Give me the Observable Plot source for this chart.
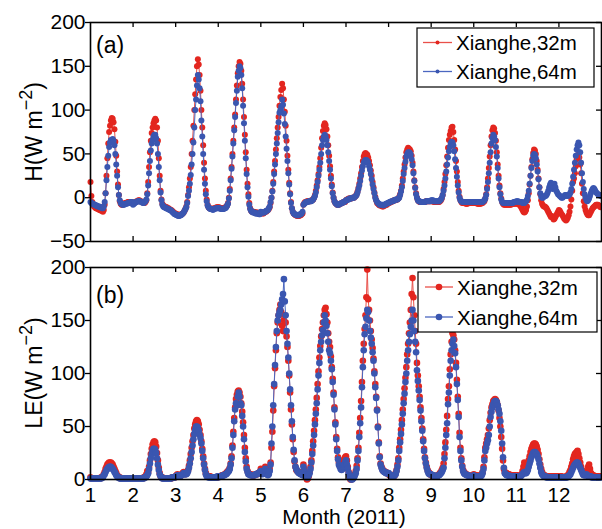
<!DOCTYPE html>
<html><head><meta charset="utf-8">
<script src="https://cdn.jsdelivr.net/npm/d3@7"></script>
<script src="https://cdn.jsdelivr.net/npm/@observablehq/plot@0.6"></script>
<style>
body{margin:0;background:#fff}
#chart{position:relative;width:602px;height:529px;font-family:"Liberation Sans",Arial,sans-serif}
#chart svg{position:absolute;left:0;overflow:visible}
#chart svg g[aria-label="y-axis tick label"]{font-size:21px}
#chart svg g[aria-label="x-axis tick label"]{font-size:20.5px}
</style>
</head><body><div id="chart"></div>
<script>
// ---------- data ----------
const months = [1,2,3,4,5,6,7,8,9,10,11,12];
const xTickLabels = [1,2,3,4,5,6,7,8,9,10,11,12];
const xTicksInner = [2,3,4,5,6,7,8,9,10,11,12];
const yTicksH = [-50,0,50,100,150,200];
const yTicksLE = [0,50,100,150,200];
const seriesNames = ["Xianghe,32m","Xianghe,64m"];

// Sensible heat flux H (W m-2), mean diurnal cycle, 48 half-hours per month
const H_32m = [
[18,2,-5,-8,-10,-11,-12,-12,-13,-13,-14,-14,-15,-15,-16,-14,-8,5,25,45,62,75,82,88,91,90,86,78,64,48,30,15,3,-4,-7,-8,-8,-7,-7,-6,-6,-6,-5,-5,-5,-5,-6,-6],
[-7,-6,-5,-5,-4,-4,-3,-3,-4,-4,-5,-5,-6,-6,-5,-3,5,18,35,52,65,74,80,85,88,90,88,80,65,45,25,8,-2,-7,-9,-10,-10,-11,-11,-12,-12,-13,-14,-14,-15,-16,-17,-18],
[-18,-19,-19,-20,-20,-20,-19,-19,-18,-17,-15,-13,-10,-5,3,12,22,35,50,65,82,100,118,135,150,158,152,140,122,100,80,60,40,22,8,-2,-8,-11,-12,-12,-13,-13,-13,-12,-12,-12,-11,-11],
[-11,-11,-12,-12,-12,-12,-12,-12,-11,-10,-9,-6,0,10,22,35,50,65,80,95,112,128,142,150,155,153,145,130,112,92,72,52,32,16,4,-6,-12,-15,-16,-16,-16,-17,-17,-17,-17,-18,-18,-18],
[-17,-17,-18,-18,-17,-16,-16,-15,-14,-13,-11,-6,0,8,18,30,42,55,68,80,92,105,115,123,130,125,112,98,82,65,48,32,17,5,-5,-12,-16,-18,-19,-20,-20,-21,-21,-21,-20,-20,-19,-18],
[-8,-6,-5,-5,-4,-4,-4,-4,-4,-3,-3,-2,0,3,8,14,20,27,35,45,57,68,76,82,85,83,78,70,60,48,36,25,15,6,0,-4,-6,-7,-8,-8,-8,-7,-7,-6,-6,-5,-5,-5],
[-3,-2,-2,-1,-1,-1,-1,0,0,0,1,2,4,7,11,16,22,28,35,42,47,50,51,50,49,46,42,37,31,25,18,12,6,1,-3,-6,-7,-8,-9,-9,-9,-10,-10,-9,-9,-8,-8,-7],
[-6,-6,-5,-5,-4,-4,-3,-3,-3,-2,-2,-1,1,4,8,14,22,30,38,46,52,55,57,56,55,53,48,40,30,20,12,5,0,-3,-4,-5,-5,-5,-5,-5,-5,-5,-4,-4,-4,-4,-4,-4],
[-4,-4,-4,-5,-5,-5,-5,-5,-5,-5,-4,-3,-1,3,10,18,27,37,47,57,66,72,76,80,81,75,66,55,42,30,18,8,1,-3,-5,-6,-6,-6,-6,-7,-7,-7,-6,-6,-6,-6,-6,-6],
[-6,-6,-6,-6,-7,-7,-7,-7,-7,-6,-6,-5,-4,-1,4,12,22,34,47,60,70,77,80,79,74,65,52,38,25,14,5,-1,-5,-7,-8,-8,-8,-8,-8,-8,-8,-8,-8,-7,-7,-7,-7,-7],
[-6,-7,-7,-8,-8,-10,-12,-14,-16,-17,-16,-14,-10,-3,5,15,25,35,44,51,55,54,50,42,32,22,12,4,-3,-7,-9,-10,-10,-11,-12,-14,-16,-18,-20,-22,-21,-23,-25,-24,-22,-20,-18,-16],
[-14,-15,-17,-19,-20,-22,-24,-25,-26,-25,-23,-20,-16,-10,-2,8,18,22,28,36,44,48,50,46,38,28,16,5,-4,-10,-14,-17,-19,-20,-20,-18,-16,-14,-12,-11,-10,-9,-8,-8,-8,-9,-10,-11]
];
const H_64m = [
[-5,-6,-7,-7,-8,-8,-9,-9,-10,-10,-10,-11,-11,-12,-12,-10,-5,5,20,35,48,58,63,66,66,67,65,60,50,38,25,12,3,-3,-6,-7,-8,-8,-8,-7,-7,-7,-6,-6,-6,-5,-5,-5],
[-8,-7,-6,-5,-5,-4,-4,-4,-4,-5,-5,-6,-6,-5,-4,-2,4,14,28,42,54,62,66,70,72,72,68,62,50,35,20,6,-3,-8,-10,-11,-11,-12,-12,-13,-13,-14,-14,-15,-16,-17,-18,-19],
[-19,-20,-20,-21,-21,-20,-20,-19,-18,-17,-15,-13,-11,-6,2,8,16,26,38,50,63,80,100,112,128,140,135,125,110,88,70,50,32,16,4,-4,-9,-11,-12,-13,-13,-13,-14,-13,-13,-12,-12,-12],
[-12,-12,-12,-13,-13,-13,-13,-12,-12,-11,-9,-7,-1,8,20,33,47,62,77,92,108,122,138,145,150,148,140,125,105,85,65,45,27,12,1,-8,-13,-15,-16,-17,-17,-17,-18,-18,-18,-18,-19,-19],
[-16,-17,-17,-17,-17,-16,-15,-15,-14,-12,-10,-5,0,7,16,27,38,50,62,74,86,97,100,104,112,106,96,84,70,56,42,28,15,4,-6,-12,-16,-18,-19,-19,-20,-20,-20,-20,-19,-19,-18,-16],
[-8,-7,-6,-5,-5,-5,-4,-4,-4,-4,-3,-2,0,2,6,12,18,25,32,40,50,60,66,70,72,70,66,60,52,42,32,22,13,5,0,-4,-6,-7,-8,-8,-8,-7,-7,-6,-6,-5,-5,-4],
[-3,-3,-2,-2,-1,-1,-1,0,0,0,1,2,3,6,10,14,19,25,31,36,40,42,43,43,42,40,36,32,27,21,15,10,5,0,-3,-5,-6,-7,-8,-8,-8,-8,-9,-8,-8,-7,-7,-6],
[-6,-5,-5,-4,-4,-4,-3,-3,-2,-2,-2,-1,0,3,7,12,19,27,34,41,47,50,52,52,51,49,44,37,28,19,11,4,0,-3,-4,-4,-5,-5,-5,-5,-5,-5,-4,-4,-4,-4,-4,-4],
[-3,-3,-3,-4,-4,-4,-4,-4,-4,-4,-3,-2,0,3,8,14,22,30,38,46,53,58,62,64,63,60,53,44,34,24,14,6,0,-3,-4,-5,-5,-5,-5,-5,-5,-5,-5,-5,-5,-5,-5,-5],
[-5,-5,-5,-5,-5,-5,-5,-5,-5,-5,-5,-4,-3,-1,3,10,18,28,40,52,62,68,72,70,66,58,47,34,22,12,4,-2,-5,-6,-6,-6,-6,-6,-6,-6,-6,-6,-6,-6,-6,-5,-5,-5],
[-4,-4,-4,-5,-5,-5,-5,-6,-6,-6,-5,-4,-2,2,8,16,25,34,42,48,50,49,45,38,30,21,12,5,1,0,0,1,2,2,3,5,8,12,15,17,14,10,12,16,12,8,6,4],
[3,2,1,0,0,1,2,3,3,2,2,3,4,6,10,16,24,32,40,48,55,60,63,60,52,40,28,18,10,4,0,-3,-4,-3,-1,2,5,8,10,11,10,8,6,5,4,3,3,2]
];
// Latent heat flux LE (W m-2)
const LE_32m = [
[2,1,1,1,1,1,1,1,1,1,1,1,2,2,3,5,7,10,12,14,15,16,16,16,15,14,12,10,8,6,4,3,2,2,1,1,1,1,1,1,1,1,1,1,1,1,1,1],
[1,1,1,1,1,1,1,1,1,1,1,1,2,2,3,5,8,7,12,18,24,29,33,35,36,35,31,25,18,11,6,3,2,2,1,1,1,1,1,1,1,1,1,1,2,2,2,2],
[3,4,5,4,3,3,4,5,6,7,6,5,6,7,9,13,18,24,30,36,42,48,52,55,56,55,52,47,42,36,29,22,15,10,6,4,3,3,3,3,2,2,2,2,2,2,2,2],
[3,3,3,3,4,4,4,5,5,6,7,8,9,11,15,22,32,45,58,68,76,80,83,84,82,78,72,64,54,42,30,20,12,8,6,5,5,5,4,4,4,4,5,5,5,6,6,7],
[10,8,7,8,10,12,9,6,5,7,10,16,30,45,65,88,105,122,138,148,155,160,165,158,145,140,150,155,148,135,125,112,98,82,66,52,38,26,17,12,9,8,7,7,6,6,5,5],
[14,10,6,2,0,1,3,7,12,18,27,36,46,56,66,77,90,102,115,126,135,142,148,155,160,162,156,148,138,130,125,116,106,95,82,68,54,40,29,21,16,13,12,11,13,16,19,21],
[22,18,12,7,3,0,0,1,2,3,5,8,13,20,30,44,58,74,92,112,128,142,155,172,198,170,160,150,140,132,124,114,102,90,78,66,50,35,22,15,12,10,8,8,7,7,6,6],
[5,4,4,3,3,3,3,4,6,9,14,20,30,38,47,56,66,76,86,96,106,118,128,138,148,160,175,190,172,155,140,128,110,98,88,78,68,58,48,38,29,21,16,12,9,7,6,5],
[4,4,3,3,3,3,3,4,4,5,6,7,9,11,15,24,35,47,60,76,88,104,118,130,138,136,132,122,110,94,78,62,44,30,20,13,9,7,6,5,5,4,4,4,3,3,3,3],
[5,4,4,4,3,3,3,4,4,5,7,12,21,30,34,38,42,48,56,63,68,71,74,75,76,75,73,70,65,58,50,40,29,18,10,7,6,6,5,5,5,4,4,4,4,4,4,4],
[4,4,3,3,3,4,5,8,12,16,12,8,10,14,18,22,26,29,31,33,34,34,33,31,28,24,19,14,10,7,5,4,4,3,3,3,3,3,3,3,3,3,3,3,3,3,3,3],
[3,3,3,3,2,2,2,2,3,3,4,5,7,9,12,15,19,22,24,25,26,27,24,20,16,12,9,7,6,5,5,6,8,12,14,10,6,5,4,4,3,3,3,3,3,3,3,3]
];
const LE_64m = [
[1,1,1,1,1,1,1,1,1,1,1,1,1,2,2,4,5,7,9,10,11,12,12,12,11,10,9,7,6,4,3,2,2,1,1,1,1,1,1,1,1,1,1,1,1,1,1,1],
[1,1,1,1,1,1,1,1,1,1,1,1,1,2,2,3,4,6,10,15,20,24,27,29,29,28,25,20,14,9,5,3,2,1,1,1,1,1,1,1,1,1,1,1,2,2,2,2],
[3,3,4,4,3,3,4,4,5,6,5,5,5,6,8,11,15,20,26,32,38,43,47,50,50,49,46,42,39,34,27,20,14,9,5,3,3,2,2,2,2,2,2,2,2,2,2,3],
[2,3,3,3,3,4,4,4,5,5,6,7,8,10,14,20,30,42,55,66,72,70,78,82,78,72,70,60,50,38,26,17,10,7,5,5,4,4,4,4,4,4,5,5,5,6,6,7],
[8,6,5,6,8,10,7,5,4,5,8,14,34,50,70,90,108,125,140,150,155,158,160,165,170,175,189,168,155,140,128,115,100,85,70,55,40,28,18,12,10,8,7,6,6,5,5,4],
[12,8,5,3,2,2,4,6,10,16,24,32,42,52,62,72,85,98,110,122,130,136,141,148,155,150,145,138,130,122,119,112,104,92,80,66,52,38,27,19,14,12,10,9,10,12,14,16],
[18,14,10,6,3,1,0,0,1,2,4,6,10,18,27,40,53,68,87,106,122,137,144,152,160,158,150,140,134,128,120,112,100,87,77,65,49,34,21,14,11,9,8,7,7,6,6,6],
[6,5,4,4,3,3,3,4,5,8,12,18,27,35,43,52,62,72,81,92,100,112,122,130,137,144,150,160,150,140,130,120,103,93,84,75,65,55,46,36,27,20,15,11,8,6,5,5],
[5,4,4,4,3,3,3,3,4,4,5,6,7,9,11,20,30,42,53,71,82,98,112,122,128,132,126,119,106,90,75,59,40,27,18,12,8,6,5,5,4,4,4,3,3,3,3,3],
[4,3,3,3,3,3,3,3,3,4,6,10,18,27,30,34,37,42,50,59,64,68,71,73,74,74,73,70,66,62,55,46,34,21,11,6,5,4,4,4,3,3,3,3,3,3,3,3],
[3,3,3,3,3,3,4,5,6,7,6,6,7,9,12,15,18,21,23,25,26,26,25,24,22,19,15,11,7,5,4,3,3,3,2,2,2,2,2,2,2,2,2,2,2,2,2,2],
[2,2,2,2,2,2,2,2,2,2,3,3,4,5,7,9,11,13,14,15,16,16,15,13,11,9,7,5,4,4,4,5,4,3,3,3,3,2,2,2,2,2,2,2,2,2,2,2]
];

// ---------- styling ----------
const RED = "#e3261f", RED_LINE = "#e9504a";
const BLUE = "#3a56b0", BLUE_LINE = "#4b67c0";
const FONT = '"Liberation Sans", Arial, sans-serif';
const W = 602, ML = 90, MR = 1;
const FW = W - ML - MR;

function rows(series, name) {
  return series.flatMap((day, k) => {
    if (day.length !== 48) throw new Error(name + " month " + months[k] + " has " + day.length);
    return day.map((v, i) => ({x: months[k] + i / 48, v}));
  });
}
const minus = d => d < 0 ? "\u2212" + (-d) : String(d);

function panel({height, mt, mb, yDomain, yTicks, red, blue, r, xAxis}) {
  const FH = height - mt - mb;
  const marks = [
    Plot.line(red, {x: "x", y: "v", stroke: RED_LINE, strokeWidth: 1}),
    Plot.dot(red, {x: "x", y: "v", r, fill: RED}),
    Plot.line(blue, {x: "x", y: "v", stroke: BLUE_LINE, strokeWidth: 1}),
    Plot.dot(blue, {x: "x", y: "v", r, fill: BLUE}),
    Plot.axisY({anchor: "left", ticks: yTicks, tickSize: 5, tickPadding: 0, tickFormat: minus, fontSize: 21, label: null, strokeWidth: 1.3}),
    Plot.tickY(yTicks, {y: d => d, insetLeft: FW - 5, stroke: "black", strokeWidth: 1.3}),
    Plot.tickX(xTicksInner, {x: d => d, insetBottom: FH - 5, stroke: "black", strokeWidth: 1.3}),
    Plot.tickX(xTicksInner, {x: d => d, insetTop: FH - 5, stroke: "black", strokeWidth: 1.3}),
    Plot.frame({stroke: "black", strokeWidth: 1.6})
  ];
  if (xAxis) marks.push(Plot.axisX({anchor: "bottom", ticks: xTickLabels, tickSize: 0, tickPadding: 7.5, fontSize: 20.5, label: null}));
  return Plot.plot({
    width: W, height, marginLeft: ML, marginRight: MR, marginTop: mt, marginBottom: mb,
    x: {domain: [1, 13], label: null, axis: xAxis ? undefined : null},
    y: {domain: yDomain, label: null},
    style: {fontFamily: FONT, fontSize: "21px", color: "black", background: "transparent", overflow: "visible"},
    marks
  });
}

function txt(sel, x, y, size, s) {
  return sel.append("text").attr("x", x).attr("y", y).attr("font-family", FONT).attr("font-size", size)
    .attr("fill", "black").attr("text-anchor", "start").text(s);
}
function legend(svg, {x0, y0, w, h, rows: ry, lx1, lx2, tx, dr}) {
  const g = d3.select(svg).append("g");
  g.append("rect").attr("x", x0).attr("y", y0).attr("width", w).attr("height", h)
    .attr("fill", "white").attr("stroke", "black").attr("stroke-width", 1.2);
  [[RED_LINE, RED], [BLUE_LINE, BLUE]].forEach(([lc, dc], i) => {
    g.append("line").attr("x1", lx1).attr("x2", lx2).attr("y1", ry[i]).attr("y2", ry[i]).attr("stroke", lc).attr("stroke-width", 1.3);
    g.append("circle").attr("cx", (lx1 + lx2) / 2).attr("cy", ry[i]).attr("r", dr).attr("fill", dc);
    txt(g, tx, ry[i] + 7.5, 20.5, seriesNames[i]);
  });
}
function ylabel(svg, x, y, main) {
  const t = d3.select(svg).append("text").attr("font-family", FONT).attr("font-size", 23).attr("fill", "black")
    .attr("text-anchor", "middle").attr("transform", `translate(${x},${y}) rotate(-90)`);
  t.append("tspan").text(main + "(W m");
  t.append("tspan").attr("dy", -10).attr("font-size", 18).text("\u22122");
  t.append("tspan").attr("dy", 10).text(")");
}

const root = document.getElementById("chart");

const a = panel({height: 250, mt: 22, mb: 9, yDomain: [-50, 200], yTicks: yTicksH,
  red: rows(H_32m, "H32"), blue: rows(H_64m, "H64"), r: 3, xAxis: false});
a.style.top = "0px";
legend(a, {x0: 417, y0: 28, w: 177, h: 59, rows: [42.5, 71.5], lx1: 423, lx2: 452, tx: 456, dr: 2});
ylabel(a, 42, 132, "H");
txt(d3.select(a), 96, 53, 23, "(a)");
root.appendChild(a);

const b = panel({height: 279, mt: 17, mb: 50, yDomain: [0, 200], yTicks: yTicksLE,
  red: rows(LE_32m, "LE32"), blue: rows(LE_64m, "LE64"), r: 3.3, xAxis: true});
b.style.top = "250px";
legend(b, {x0: 418, y0: 22, w: 179, h: 60, rows: [37, 67], lx1: 425, lx2: 453, tx: 457, dr: 3.3});
ylabel(b, 42, 123, "LE");
txt(d3.select(b), 96, 53, 23, "(b)");
txt(d3.select(b), 344, 274.3, 21, "Month (2011)").attr("text-anchor", "middle");
root.appendChild(b);
</script></body></html>
